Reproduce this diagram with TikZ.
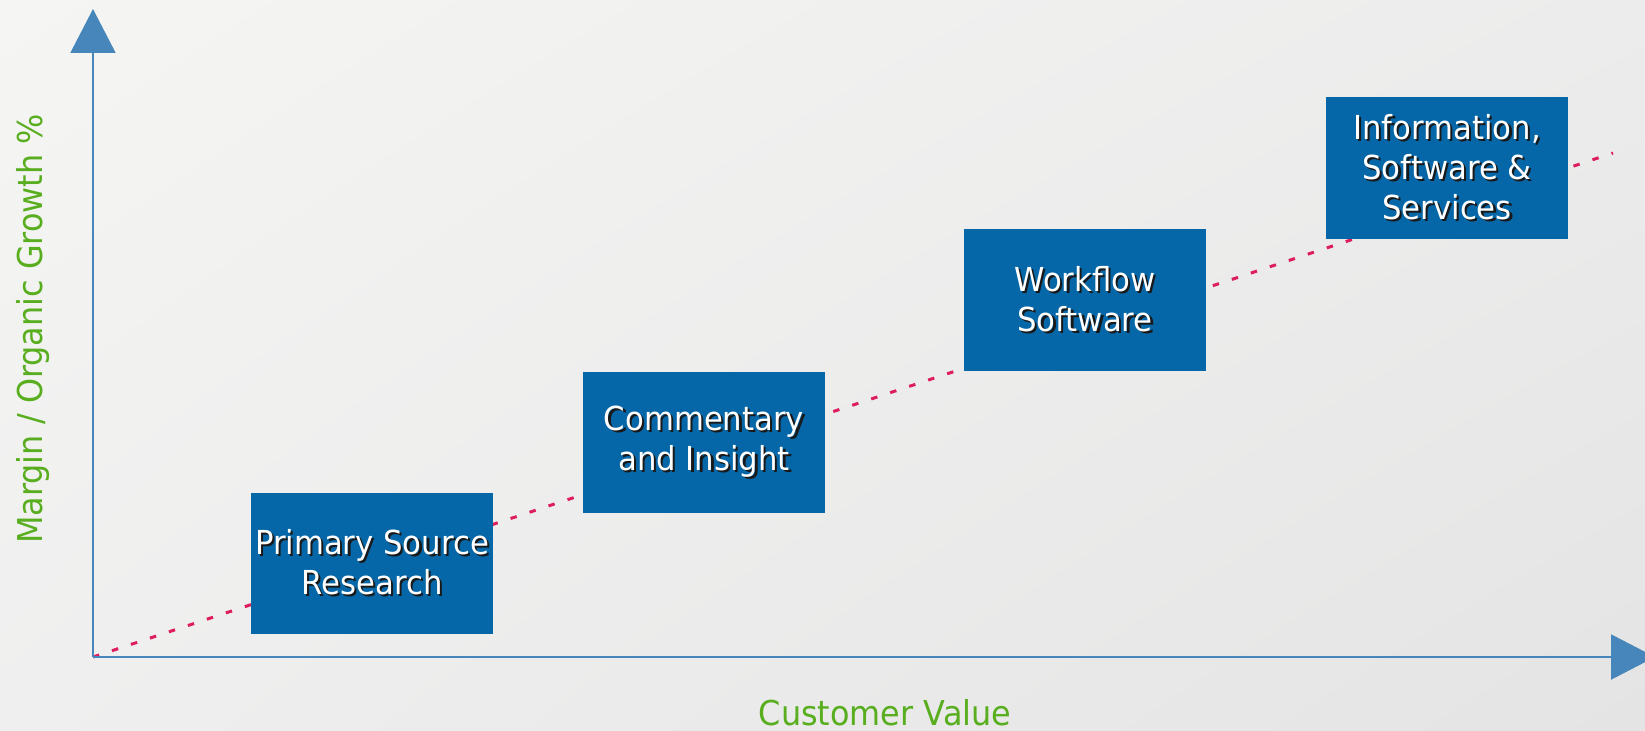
\documentclass[tikz,border=0pt]{standalone}
\usepackage{fontspec}
\setmainfont[FakeStretch=0.93]{DejaVu Sans}
\usetikzlibrary{arrows.meta,shadings}
\definecolor{boxblue}{RGB}{6,103,168}
\definecolor{axisblue}{RGB}{70,134,186}
\definecolor{trendred}{RGB}{222,30,92}
\definecolor{labelgreen}{RGB}{88,174,30}
\definecolor{bgul}{RGB}{245,245,243}
\definecolor{bgur}{RGB}{236,236,236}
\definecolor{bgll}{RGB}{239,239,239}
\definecolor{bglr}{RGB}{228,228,228}
\newcommand\shadowtxt[1]{\makebox[0pt][l]{\hspace{1.3pt}\raisebox{-1.3pt}{\textcolor{black!90}{#1}}}#1}
\begin{document}
\begin{tikzpicture}
        [x=0.02cm,y=-0.02cm,
         axis/.style={draw=axisblue,line width=0.04cm,-{Triangle[length=0.88cm,width=0.9cm]}},
         trend/.style={draw=trendred,line width=0.06cm,dash pattern=on 0.13cm off 0.27cm},
         stage/.style={fill=boxblue,text=white,minimum width=4.84cm,minimum height=2.84cm,
           inner sep=0pt,align=center,font=\fontsize{18.8}{22.8}\selectfont},
         axislabel/.style={text=labelgreen,font=\fontsize{19.5}{23}\selectfont,anchor=base}]
        \shade[upper left=bgul,upper right=bgur,lower left=bgll,lower right=bglr]
          (0,0) rectangle (1645,730);
        \useasboundingbox (0,0) rectangle (1645,730);
        \coordinate (O) at (93,657);
        \coordinate (Ytip) at (93,9);
        \coordinate (Xtip) at (1655,657);
        \coordinate (T) at (1613,153);
        \draw[trend] (O) -- (T);
        \draw[axis] (O) -- (Ytip);
        \draw[axis] (O) -- (Xtip);
        \node[stage] (P) at (372,563.5) {\shadowtxt{Primary Source}\\\shadowtxt{Research}};
        \node[stage] (C) at (704,442.5) {\shadowtxt{Commentary}\\\shadowtxt{and Insight}};
        \node[stage] (W) at (1085,300) {\shadowtxt{Workflow}\\\shadowtxt{Software}};
        \node[stage] (I) at (1447,168) {\shadowtxt{Information,}\\\shadowtxt{Software \&}\\\shadowtxt{Services}};
        \node[axislabel] (X) at (885,725) {Customer Value};
        \node[axislabel,rotate=90] (Y) at (42,329) {Margin / Organic Growth \%};
    \end{tikzpicture}
\end{document}
